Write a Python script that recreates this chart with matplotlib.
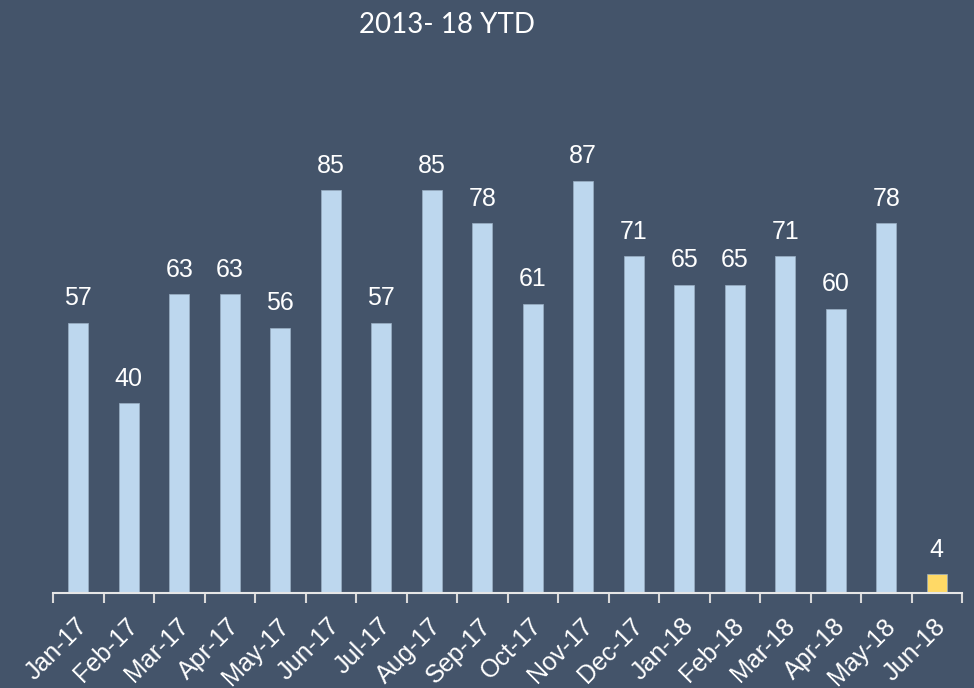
import matplotlib
matplotlib.use("Agg")
import matplotlib.pyplot as plt
import matplotlib.transforms as mtransforms
import numpy as np

# Monthly counts, Jan-17 .. Jun-18 (last month is year-to-date)
months = ["Jan-17", "Feb-17", "Mar-17", "Apr-17", "May-17", "Jun-17",
          "Jul-17", "Aug-17", "Sep-17", "Oct-17", "Nov-17", "Dec-17",
          "Jan-18", "Feb-18", "Mar-18", "Apr-18", "May-18", "Jun-18"]
counts = [57, 40, 63, 63, 56, 85, 57, 85, 78, 61, 87, 71, 65, 65, 71, 60, 78, 4]
subtitle = "2013- 18 YTD"

bg = "#44546A"
bar_blue = "#BDD7EE"
bar_yellow = "#FFD966"

fig = plt.figure(figsize=(9.74, 6.88), dpi=100, facecolor=bg)
ax = fig.add_axes([53 / 974, 95 / 688, 909 / 974, 493 / 688])
ax.set_facecolor(bg)

x = np.arange(len(months))
colors = [bar_blue] * (len(months) - 1) + [bar_yellow]
bars = ax.bar(x, counts, width=0.4, color=colors, edgecolor="#9AAFC4", linewidth=0.5)

# value labels above bars
for xi, v in zip(x, counts):
    ax.annotate(str(v), (xi, v), xytext=(0, 9), textcoords="offset points",
                ha="center", va="bottom", color="white", fontsize=18,
                family="Liberation Sans")

ax.set_xlim(-0.5, len(months) - 0.5)
ax.set_ylim(0, 104)

# spines: only the bottom axis line
for s in ["top", "right", "left"]:
    ax.spines[s].set_visible(False)
ax.spines["bottom"].set_color("#E6E6E6")
ax.spines["bottom"].set_linewidth(1.5)
ax.set_yticks([])

# labels at category centres, tick marks at category boundaries
ax.set_xticks(x)
ax.set_xticklabels(months, rotation=45, ha="right", rotation_mode="anchor",
                   color="white", fontsize=18, family="Liberation Sans")
ax.tick_params(axis="x", which="major", length=0, pad=15)
shift = mtransforms.ScaledTranslation(-3 / 100, 0, fig.dpi_scale_trans)
for lbl in ax.get_xticklabels():
    lbl.set_transform(lbl.get_transform() + shift)
ax.set_xticks(np.arange(-0.5, len(months)), minor=True)
ax.tick_params(axis="x", which="minor", length=7, width=1.5, color="#D9D9D9")

fig.text(447 / 974, 1 - 25 / 688, subtitle, ha="center", va="center",
         color="white", fontsize=20, family="Lato")

fig.savefig("out.png", dpi=100, facecolor=bg)
